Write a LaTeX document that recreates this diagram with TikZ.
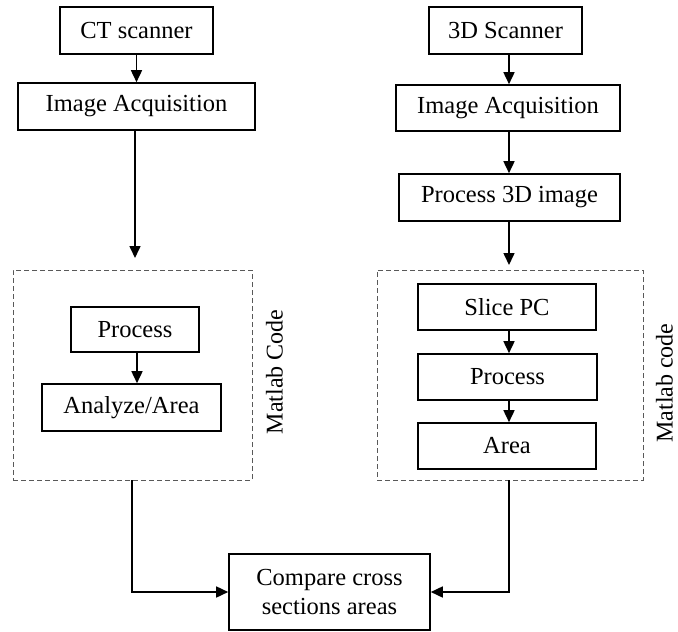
\documentclass[tikz,border=0pt]{standalone}
\usepackage{fontspec}
\setmainfont{Liberation Serif}
\usetikzlibrary{arrows.meta}
\begin{document}
\begin{tikzpicture}[x=1pt,y=-1pt,
  box/.style={draw=black,line width=1.6pt,inner sep=0pt,align=center,
    font=\fontsize{24.5}{29}\selectfont},
  dbox/.style={draw=black!65,line width=1pt,dash pattern=on 5pt off 3pt,inner sep=0pt},
  side/.style={rotate=90,anchor=south,inner sep=0pt,font=\fontsize{24}{28}\selectfont},
  arr/.style={line width=1.6pt,-{Triangle[length=12pt,width=11pt]}},
  ln/.style={line width=1.6pt}]
\useasboundingbox (0,0) rectangle (678,632);
% left column
\node[box,minimum width=153pt,minimum height=47pt] (ct) at (136.5,30.5) {CT scanner};
\node[box,minimum width=237pt,minimum height=47pt] (iaL) at (136.5,106.5) {Image Acquisition};
\node[dbox,minimum width=239pt,minimum height=210pt] (dashL) at (132.5,375) {};
\node[box,minimum width=128pt,minimum height=45pt] (procL) at (135,329.5) {Process};
\node[box,minimum width=179pt,minimum height=47pt] (anaL) at (131.5,407.5) {Analyze/Area};
\node[side] (mL) at (283,372) {Matlab Code};
\coordinate (tipL) at (135,258);
\coordinate (axL) at (137,0);
\draw[arr] (ct) -- (ct |- iaL.north);
\draw[arr] (iaL.south -| tipL) -- (tipL);
\draw[arr] (procL.south -| axL) -- (anaL.north -| axL);
% right column
\node[box,minimum width=153pt,minimum height=47pt] (s3d) at (505.5,30.5) {3D Scanner};
\node[box,minimum width=224pt,minimum height=46pt] (iaR) at (508,108) {Image Acquisition};
\node[box,minimum width=221pt,minimum height=47pt] (p3d) at (509.5,197.5) {Process 3D image};
\node[dbox,minimum width=266pt,minimum height=210pt] (dashR) at (510,375) {};
\node[box,minimum width=178pt,minimum height=46pt] (slice) at (507,307) {Slice PC};
\node[box,minimum width=179pt,minimum height=46pt] (procR) at (507.5,377) {Process};
\node[box,minimum width=178pt,minimum height=46pt] (area) at (507,446) {Area};
\node[side] (mR) at (673,383) {Matlab code};
\coordinate (tipR) at (509,265);
\draw[arr] (s3d.south -| tipR) -- (iaR.north -| tipR);
\draw[arr] (iaR.south -| tipR) -- (p3d.north -| tipR);
\draw[arr] (p3d.south -| tipR) -- (tipR);
\draw[arr] (slice.south -| tipR) -- (procR.north -| tipR);
\draw[arr] (procR.south -| tipR) -- (area.north -| tipR);
% bottom
\node[box,minimum width=201pt,minimum height=76pt] (cmp) at (329.5,592) {Compare cross\\sections areas};
\coordinate (outL) at (132,480);
\coordinate (outR) at (509,480);
\draw[arr] (outL) |- (cmp.west);
\draw[arr] (outR) |- (cmp.east);
\end{tikzpicture}
\end{document}
